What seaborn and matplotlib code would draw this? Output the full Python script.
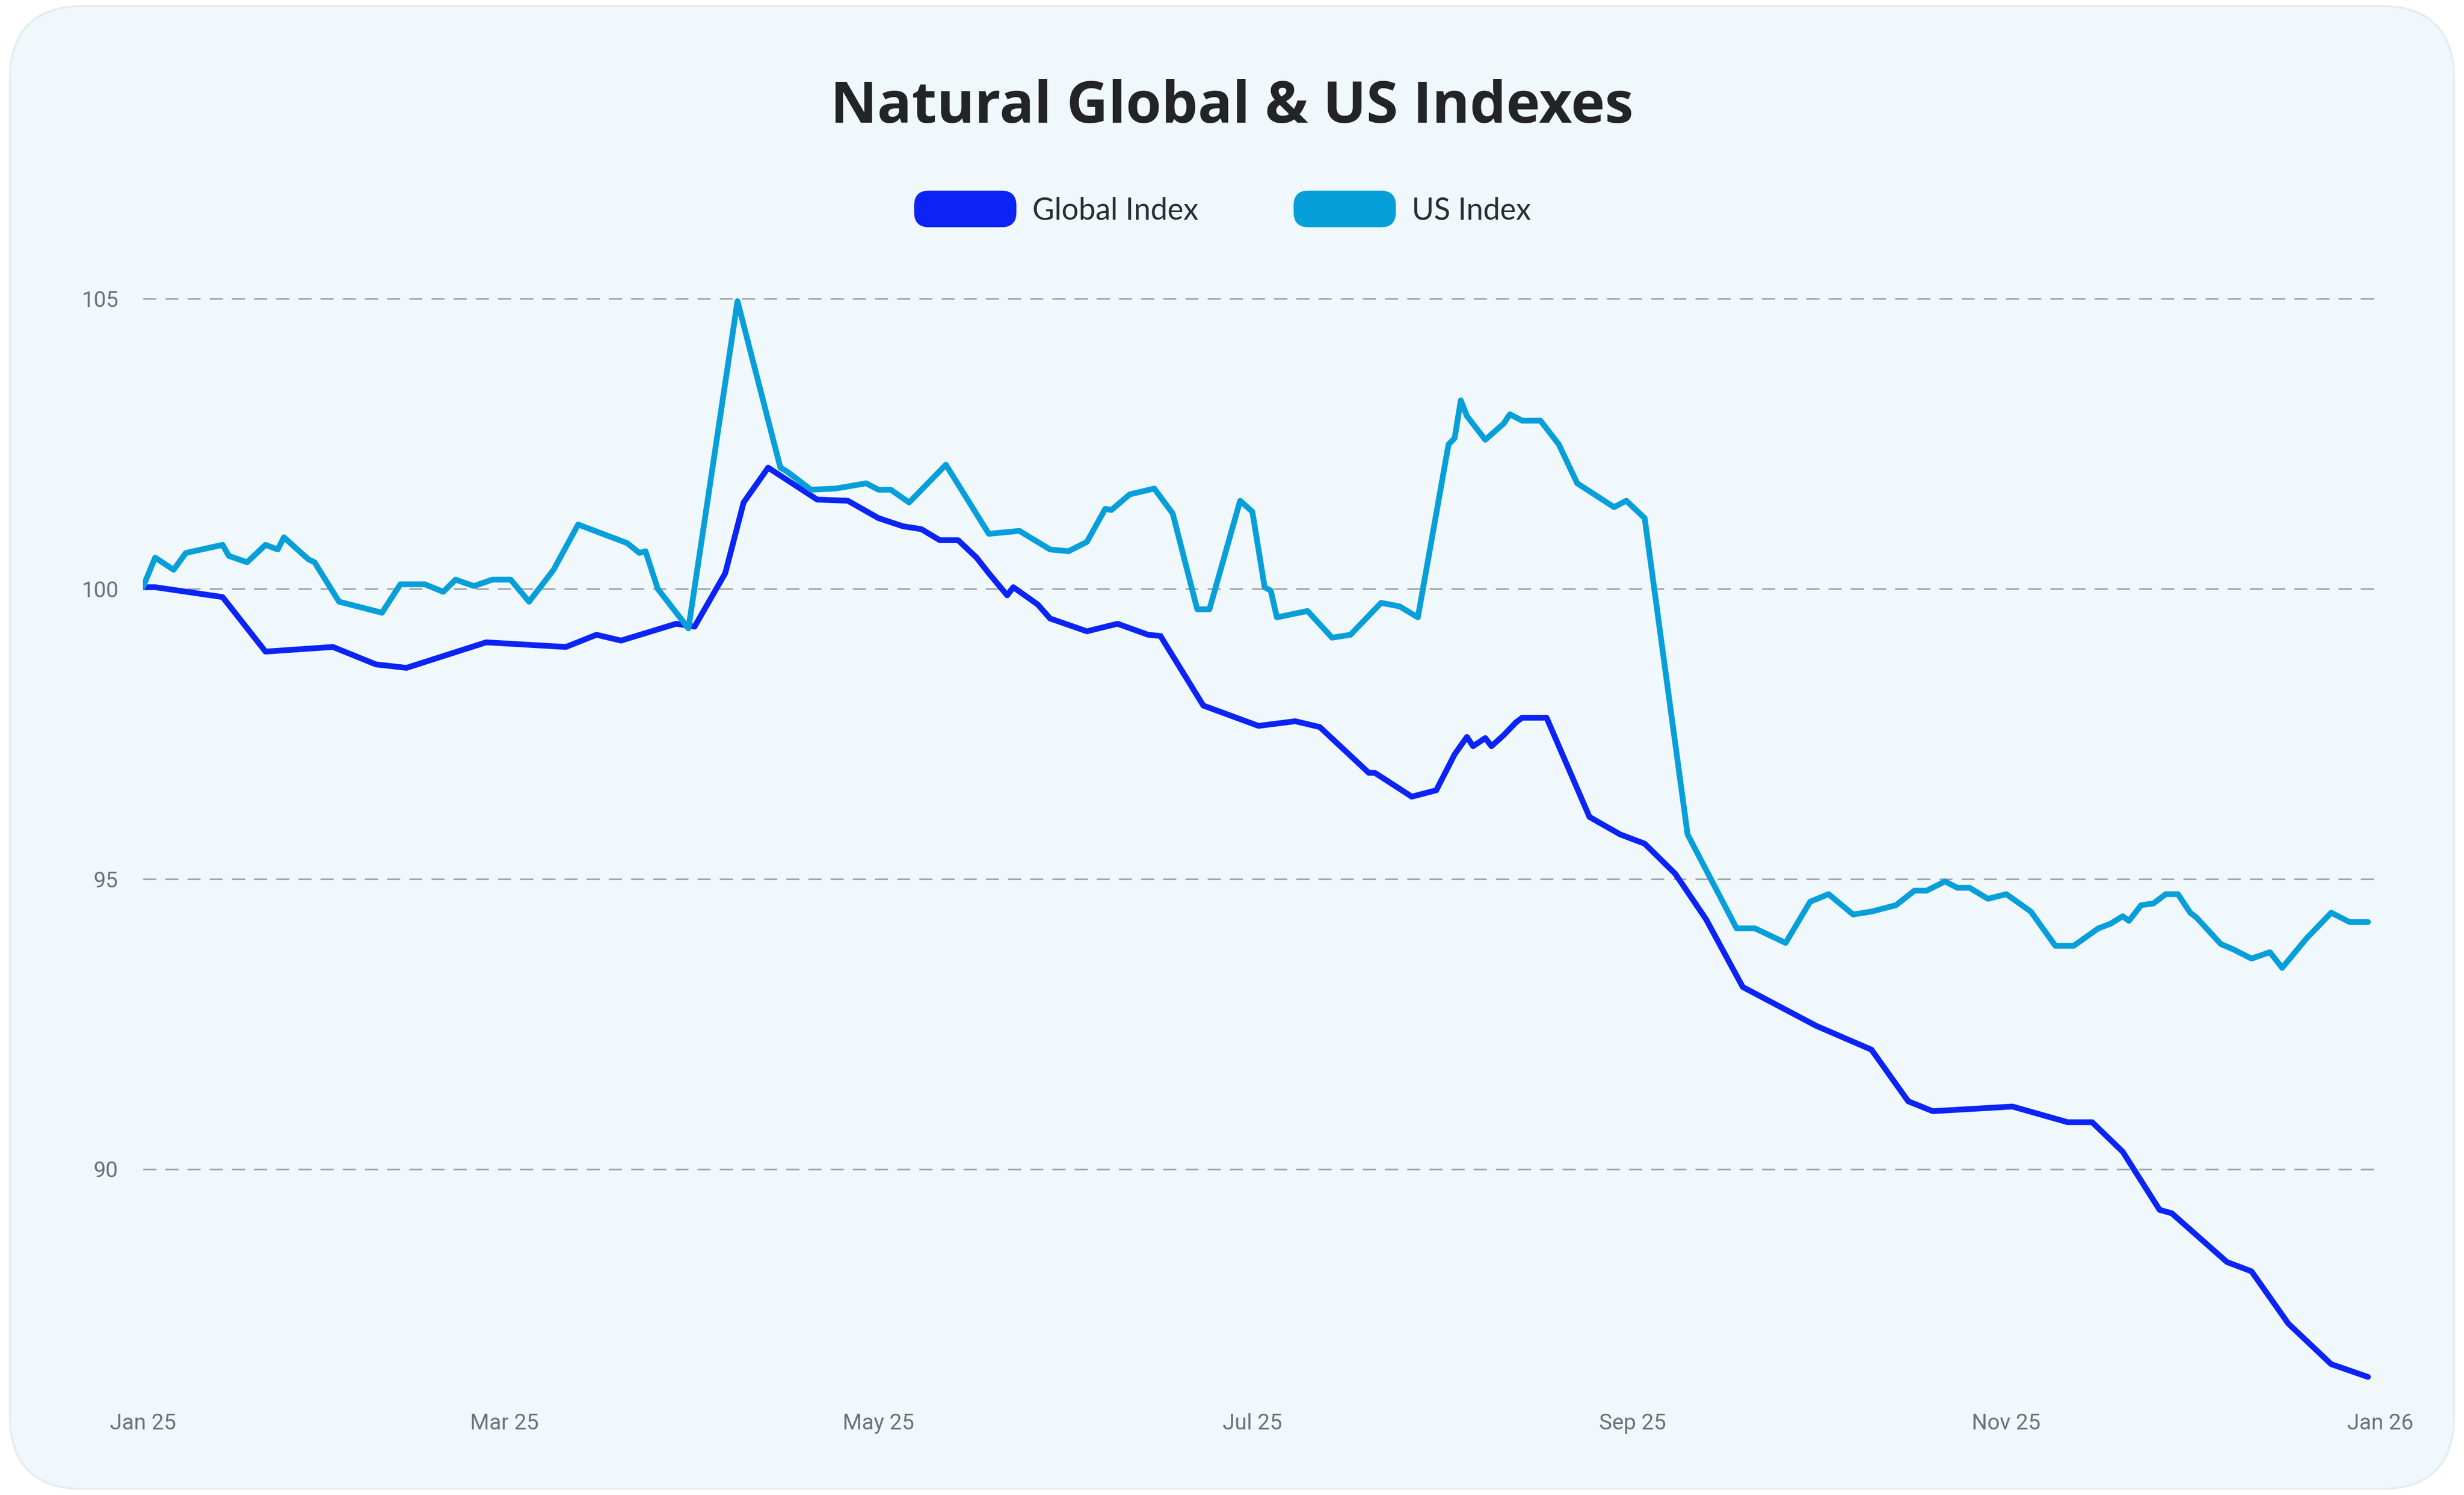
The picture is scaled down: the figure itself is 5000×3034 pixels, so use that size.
import matplotlib
matplotlib.use("Agg")
import matplotlib.pyplot as plt
import matplotlib.dates as mdates
from matplotlib.patches import FancyBboxPatch
import numpy as np
import pandas as pd
import seaborn as sns

start = pd.Timestamp("2025-01-01")
global_days = [0,2,13,20,31,38,43,56,69,74,78,87,90,95,98,102,110,115,116,120,124,127,130,133,136,138,141,142,146,148,154,159,164,166,173,182,188,192,200,201,207,211,214,216,217,219,220,222,224,225,229,236,241,245,250,255,261,273,282,288,292,305,314,318,323,329,331,340,344,350,357,363]
global_vals = [100.03,100.03,99.86,98.92,99.0,98.70,98.64,99.08,99.0,99.21,99.11,99.40,99.35,100.27,101.49,102.09,101.54,101.52,101.46,101.22,101.08,101.03,100.84,100.84,100.54,100.27,99.89,100.03,99.73,99.49,99.27,99.40,99.21,99.19,97.99,97.64,97.72,97.62,96.83,96.83,96.42,96.53,97.15,97.45,97.29,97.43,97.29,97.48,97.70,97.78,97.78,96.07,95.77,95.61,95.09,94.31,93.14,92.47,92.06,91.17,91.00,91.08,90.81,90.81,90.30,89.30,89.24,88.40,88.24,87.34,86.64,86.42]
us_days = [0,2,5,7,13,14,17,20,22,23,27,28,32,39,42,46,49,51,54,57,60,63,67,71,79,81,82,84,89,97,104,105,109,113,118,120,122,125,131,138,143,148,151,154,157,158,161,165,168,172,174,179,181,183,184,185,190,194,197,199,202,205,208,213,214,215,216,219,222,223,225,228,231,234,240,242,245,252,260,263,268,272,275,279,282,286,289,291,294,296,298,301,304,308,312,315,319,321,323,324,326,328,330,332,334,335,339,341,344,347,349,353,357,360,363]
us_vals = [100.03,100.54,100.33,100.62,100.76,100.57,100.46,100.76,100.68,100.89,100.51,100.46,99.78,99.59,100.08,100.08,99.95,100.16,100.05,100.16,100.16,99.78,100.33,101.11,100.79,100.62,100.65,100.0,99.32,104.96,102.09,102.03,101.71,101.73,101.82,101.71,101.71,101.49,102.14,100.95,101.00,100.68,100.65,100.81,101.38,101.36,101.63,101.73,101.30,99.65,99.65,101.52,101.33,100.03,99.97,99.51,99.62,99.16,99.21,99.43,99.76,99.70,99.51,102.49,102.60,103.25,102.98,102.57,102.85,103.01,102.90,102.90,102.49,101.82,101.41,101.52,101.22,95.77,94.15,94.15,93.90,94.61,94.74,94.39,94.44,94.55,94.80,94.80,94.96,94.85,94.85,94.66,94.74,94.44,93.85,93.85,94.15,94.23,94.36,94.28,94.55,94.58,94.74,94.74,94.42,94.34,93.88,93.79,93.63,93.74,93.47,93.98,94.42,94.26,94.26]
series_names = ["Global Index", "US Index"]
colors = ["#0B24F5", "#079FDA"]
yticks = [90, 95, 100, 105]
xtick_dates = ["2025-01-01","2025-03-01","2025-05-01","2025-07-01","2025-09-01","2025-11-01","2026-01-01"]

df = pd.concat([
    pd.DataFrame({"date": start + pd.to_timedelta(global_days, unit="D"), "value": global_vals, "series": series_names[0]}),
    pd.DataFrame({"date": start + pd.to_timedelta(us_days, unit="D"), "value": us_vals, "series": series_names[1]}),
])

sns.set_theme(style="white")
plt.rcParams['font.family'] = ['Lato', 'DejaVu Sans']

fig = plt.figure(figsize=(25, 15.17), dpi=200)
fig.patch.set_facecolor("white")
aspect = 25/15.17
bg = FancyBboxPatch((0.004, 0.004), 0.992, 0.992, boxstyle="round,pad=0,rounding_size=0.03",
                    transform=fig.transFigure, facecolor="#F1F8FB", edgecolor="#E3EDF2", lw=1.5,
                    mutation_aspect=aspect, zorder=-10)
fig.patches.append(bg)

ax = fig.add_axes([0.058, 0.0747, 0.908, 0.7363])
ax.set_facecolor("none")
ax.set_zorder(5)
sns.lineplot(data=df, x="date", y="value", hue="series", palette=colors, linewidth=4.2, ax=ax, legend=False)
ax.set_ylim(86.31, 105.28)
ax.set_xlim(pd.Timestamp("2025-01-01"), pd.Timestamp("2026-01-01"))
ax.set_yticks(yticks)
ax.yaxis.grid(True, color="#A0A4A8", linestyle=(0, (8, 5.5)), linewidth=1.2)
ax.set_axisbelow(True)
ax.set_xticks(pd.to_datetime(xtick_dates))
ax.xaxis.set_major_formatter(mdates.DateFormatter("%b %y"))
for s in ax.spines.values():
    s.set_visible(False)
ax.tick_params(axis="both", length=0, labelsize=16, labelcolor="#6B7278")
for lab in ax.get_xticklabels() + ax.get_yticklabels():
    lab.set_fontfamily("Roboto")
ax.tick_params(axis="x", pad=22)
ax.tick_params(axis="y", pad=18)
ax.set_xlabel("")
ax.set_ylabel("")

fig.text(0.5, 0.928, "Natural Global & US Indexes", ha="center", va="center",
         fontsize=42, fontweight="bold", color="#222428", family=["Open Sans", "DejaVu Sans"])

for (x0, name, c) in [(0.371, series_names[0], colors[0]), (0.525, series_names[1], colors[1])]:
    p = FancyBboxPatch((x0, 0.848), 0.0415, 0.0245, boxstyle="round,pad=0,rounding_size=0.006",
                       transform=fig.transFigure, facecolor=c, edgecolor="none", mutation_aspect=aspect)
    fig.patches.append(p)
    fig.text(x0 + 0.048, 0.859, name, ha="left", va="center", fontsize=22, color="#2A2D31")

fig.savefig("out.png", dpi=200)
